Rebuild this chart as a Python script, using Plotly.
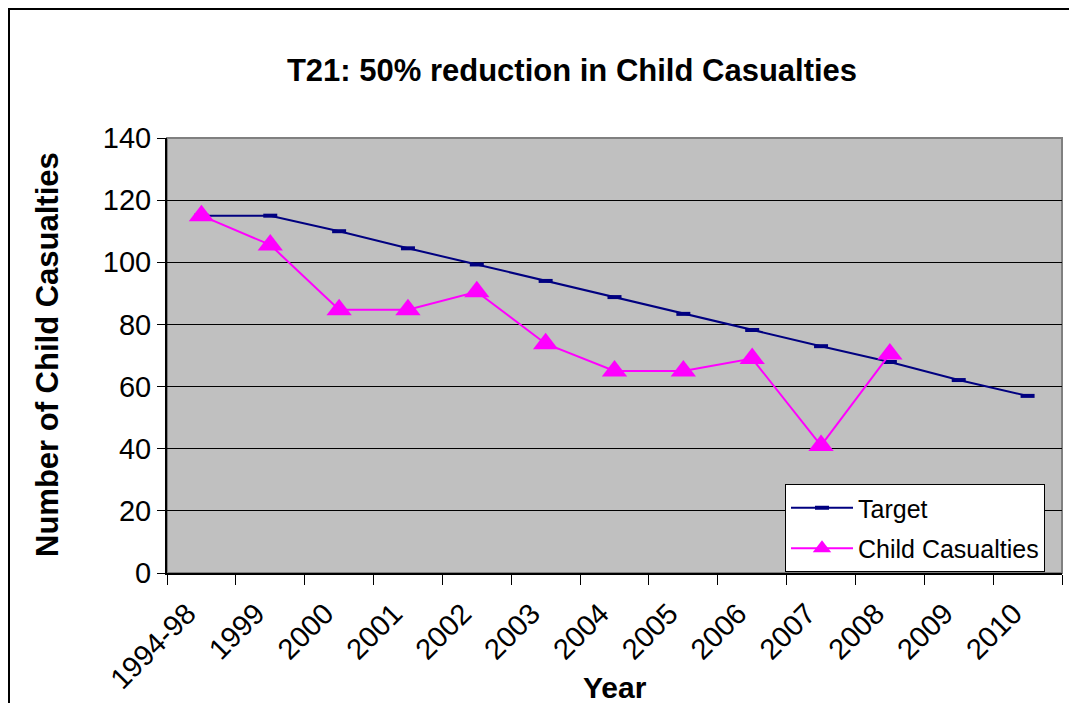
import plotly.graph_objects as go

years = ["1994-98", "1999", "2000", "2001", "2002", "2003", "2004",
         "2005", "2006", "2007", "2008", "2009", "2010"]
target = [115, 115, 110, 104.5, 99.3, 94, 88.8, 83.4, 78.2, 73, 67.9, 62.1, 57]
child_years = years[:11]
child_casualties = [115, 105.6, 84.7, 84.7, 90.5, 73.8, 65, 65, 69, 41, 70.5]

FONT = "Liberation Sans, Arial, sans-serif"

fig = go.Figure()
fig.add_trace(go.Scatter(
    x=years, y=target, name="Target", mode="lines+markers",
    line=dict(color="#000080", width=2),
    marker=dict(symbol="line-ew", size=10, color="#000080",
                line=dict(color="#000080", width=4)),
    legendgroup="a",
))
fig.add_trace(go.Scatter(
    x=child_years, y=child_casualties, name="Child Casualties", mode="lines+markers",
    line=dict(color="#FF00FF", width=2),
    marker=dict(symbol="triangle-up", size=22, color="#FF00FF"),
    legendgroup="b",
))

OFF = 8  # page body margin
W, H = 1077 - 2 * OFF, 711 - 2 * OFF
# target page pixel positions of plot area
L, R, T, B = 167 - OFF, 1062 - OFF, 138 - OFF, 573 - OFF
pw, ph = R - L, B - T

def px(x):
    return (x - OFF - L) / pw

def py(y):
    return (B - (y - OFF)) / ph

fig.update_layout(
    width=W, height=H,
    margin=dict(l=L, r=W - R, t=T, b=H - B, pad=0),
    paper_bgcolor="white",
    plot_bgcolor="#C0C0C0",
    font=dict(family=FONT, color="black", size=29),
    title=dict(text="<b>T21: 50% reduction in Child Casualties</b>",
               x=(572 - OFF) / W, xref="container", xanchor="center",
               y=1 - (70 - OFF) / H, yref="container", yanchor="middle",
               font=dict(size=31, family=FONT, color="black")),
    showlegend=True,
    legend=dict(x=px(785), y=py(484), xanchor="left", yanchor="top",
                bgcolor="white", bordercolor="black", borderwidth=1,
                font=dict(size=25, family=FONT, color="black"),
                traceorder="grouped", tracegroupgap=5, itemwidth=62),
    xaxis=dict(type="category", range=[-0.5, len(years) - 0.5],
               tickson="boundaries", ticks="outside", ticklen=10,
               tickcolor="black", tickwidth=1, tickangle=-45,
               ticklabelstandoff=10, ticklabelshift=-14,
               showline=True, linecolor="black", linewidth=2,
               showgrid=False, zeroline=False,
               tickfont=dict(size=29, family=FONT, color="black")),
    yaxis=dict(range=[0, 140], dtick=20, ticks="outside", ticklen=8,
               tickcolor="black", tickwidth=1,
               showline=True, linecolor="black", linewidth=2,
               showgrid=True, gridcolor="black", gridwidth=1,
               zeroline=False,
               tickfont=dict(size=29, family=FONT, color="black")),
    shapes=[
        dict(type="rect", xref="paper", yref="paper", x0=0, x1=1, y0=0, y1=1,
             line=dict(color="#808080", width=2), layer="below"),
        dict(type="rect", xref="paper", yref="paper",
             x0=px(9), x1=px(1100), y0=py(9), y1=py(740),
             line=dict(color="black", width=2), fillcolor="rgba(0,0,0,0)"),
    ],
    annotations=[
        dict(text="<b>Number of Child Casualties</b>", textangle=-90,
             xref="paper", yref="paper", x=px(47), y=py(355),
             xanchor="center", yanchor="middle", showarrow=False,
             font=dict(size=31, family=FONT, color="black")),
        dict(text="<b>Year</b>", xref="paper", yref="paper",
             x=px(615), y=py(687), xanchor="center", yanchor="middle",
             showarrow=False, font=dict(size=30, family=FONT, color="black")),
    ],
)

fig.write_html("out.html")
